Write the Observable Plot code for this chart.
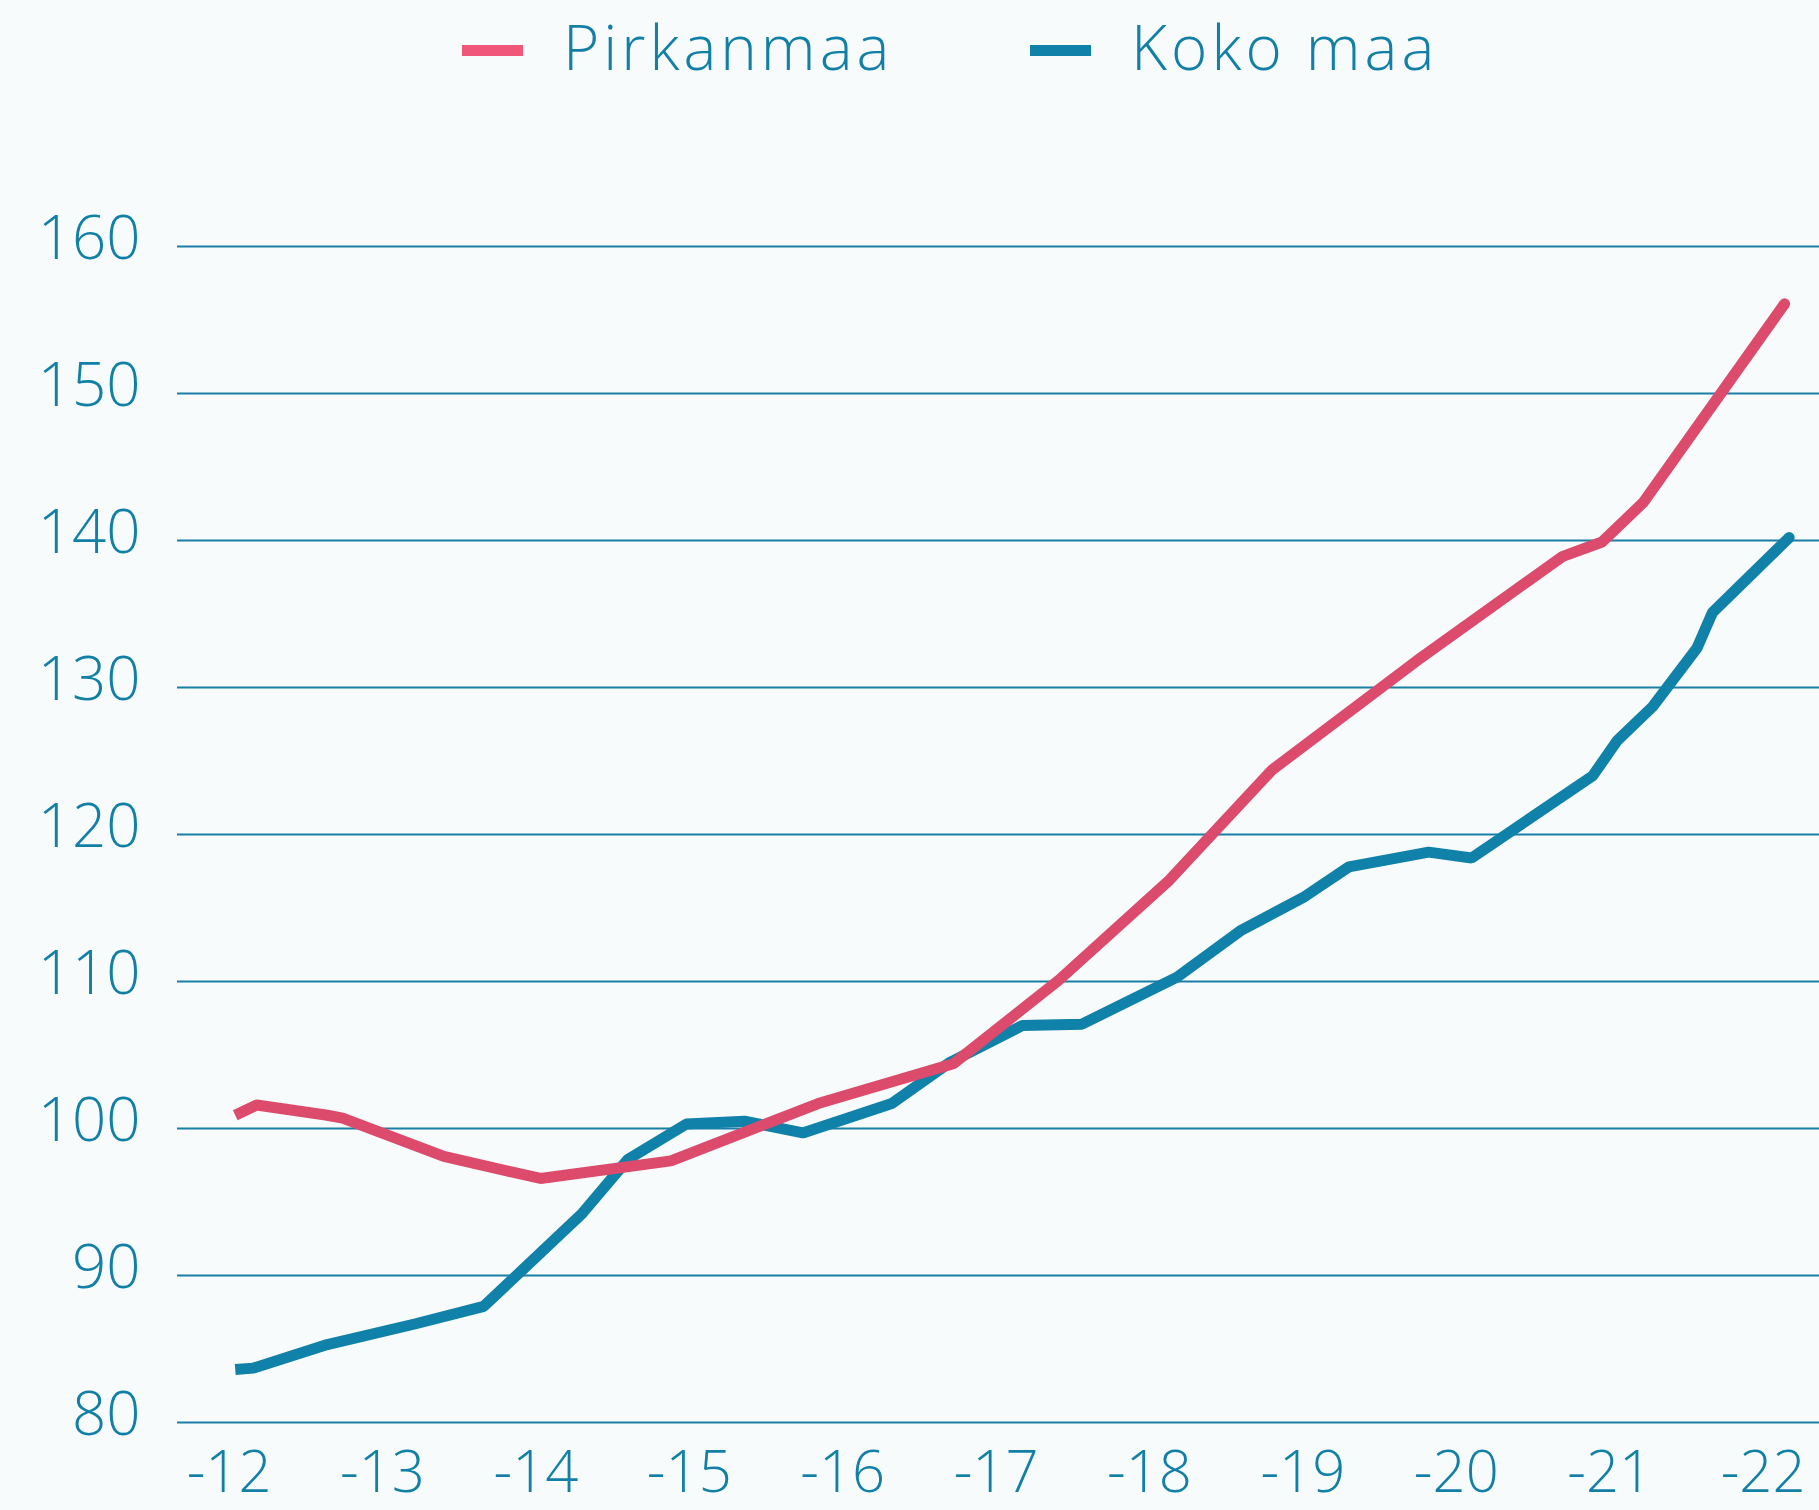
<!DOCTYPE html>
<html>
<head>
<meta charset="utf-8">
<script src="https://cdn.jsdelivr.net/npm/d3@7"></script>
<script src="https://cdn.jsdelivr.net/npm/@observablehq/plot@0.6"></script>
<style>
  html, body { margin: 0; padding: 0; background: #f7fbfc; }
  body { width: 1819px; height: 1510px; overflow: hidden; font-family: "Open Sans", Lato, sans-serif; }
  #legend { position: relative; height: 110px; width: 1819px; }
  #legend .sw { position: absolute; top: 45px; width: 61px; height: 11px; }
  #legend .lb { position: absolute; top: 15px; font-size: 62px; line-height: 62px; font-weight: 300; letter-spacing: 4px; color: #1280a6; white-space: nowrap; }
</style>
</head>
<body>
<div id="legend"></div>
<div id="chart"></div>
<script>
// Series names and colours
const seriesNames = ["Pirkanmaa", "Koko maa"];
const seriesColors = ["#dc4b6c", "#1081a8"];
const legendSwatchColors = ["#f0557a", "#1081a8"];

// Pirkanmaa (x = year 20xx as decimal, y = index)
const pirkanmaaYears = [12.04, 12.18, 12.64, 12.74, 13.40, 14.03, 14.88, 15.84, 16.72, 17.41, 18.13, 18.80, 19.74, 20.69, 20.95, 21.22, 22.14];
const pirkanmaaValues = [100.9, 101.6, 100.9, 100.7, 98.1, 96.6, 97.8, 101.7, 104.4, 110.1, 116.9, 124.4, 131.8, 138.9, 139.9, 142.6, 156.1];

// Koko maa
const kokoMaaYears = [12.04, 12.16, 12.64, 13.21, 13.66, 14.30, 14.60, 14.98, 15.36, 15.74, 16.32, 16.70, 17.17, 17.56, 18.18, 18.60, 19.00, 19.30, 19.82, 20.10, 20.89, 21.05, 21.28, 21.57, 21.67, 22.17];
const kokoMaaValues = [83.6, 83.7, 85.3, 86.7, 87.9, 94.2, 97.9, 100.3, 100.5, 99.7, 101.7, 104.5, 107.0, 107.1, 110.3, 113.5, 115.7, 117.8, 118.8, 118.4, 124.0, 126.4, 128.7, 132.7, 135.1, 140.2];

// Axis ticks
const yTicks = [80, 90, 100, 110, 120, 130, 140, 150, 160];
const xTicks = [12, 13, 14, 15, 16, 17, 18, 19, 20, 21, 22];
const xTickLabels = ["-12", "-13", "-14", "-15", "-16", "-17", "-18", "-19", "-20", "-21", "-22"];

// Legend
const legend = document.getElementById("legend");
const swatchLeft = [462, 1030];
const labelLeft = [563, 1131];
seriesNames.forEach((name, i) => {
  const sw = document.createElement("div");
  sw.className = "sw";
  sw.style.left = swatchLeft[i] + "px";
  sw.style.background = legendSwatchColors[i];
  legend.appendChild(sw);
  const lb = document.createElement("div");
  lb.className = "lb";
  lb.style.left = labelLeft[i] + "px";
  lb.textContent = name;
  legend.appendChild(lb);
});

const pirkanmaa = pirkanmaaYears.map((x, i) => ({x, y: pirkanmaaValues[i]}));
const kokoMaa = kokoMaaYears.map((x, i) => ({x, y: kokoMaaValues[i]}));

const textColor = "#1280a6";
const gridColor = "#1a7fa5";

const chart = Plot.plot({
  width: 1819,
  height: 1400,
  marginLeft: 177,
  marginRight: 0,
  marginTop: 136,
  marginBottom: 88,
  style: {background: "#f7fbfc", fontFamily: "'Open Sans', Lato, sans-serif", fontWeight: 300, color: textColor},
  x: {type: "linear", domain: [11.6636, 22.3677]},
  y: {type: "linear", domain: [80, 160]},
  marks: [
    Plot.ruleY(yTicks, {stroke: gridColor, strokeWidth: 2}),
    Plot.axisY({ticks: yTicks, tickSize: 0, tickPadding: 37, fontSize: 60, fontWeight: 300, fill: textColor, dy: -7, label: null, tickFormat: d => String(d)}),
    Plot.axisX({ticks: xTicks, tickSize: 0, tickPadding: 28, fontSize: 58, fontWeight: 300, fill: textColor, label: null, tickFormat: d => xTickLabels[xTicks.indexOf(d)]}),
    Plot.line(kokoMaa, {x: "x", y: "y", stroke: seriesColors[1], strokeWidth: 11, strokeLinecap: "butt", strokeLinejoin: "miter"}),
    Plot.dot(kokoMaa.slice(-1), {x: "x", y: "y", r: 5.5, fill: seriesColors[1], stroke: "none"}),
    Plot.line(pirkanmaa, {x: "x", y: "y", stroke: seriesColors[0], strokeWidth: 11, strokeLinecap: "butt", strokeLinejoin: "miter"}),
    Plot.dot(pirkanmaa.slice(-1), {x: "x", y: "y", r: 5.5, fill: seriesColors[0], stroke: "none"})
  ]
});
document.getElementById("chart").appendChild(chart);
</script>
</body>
</html>
